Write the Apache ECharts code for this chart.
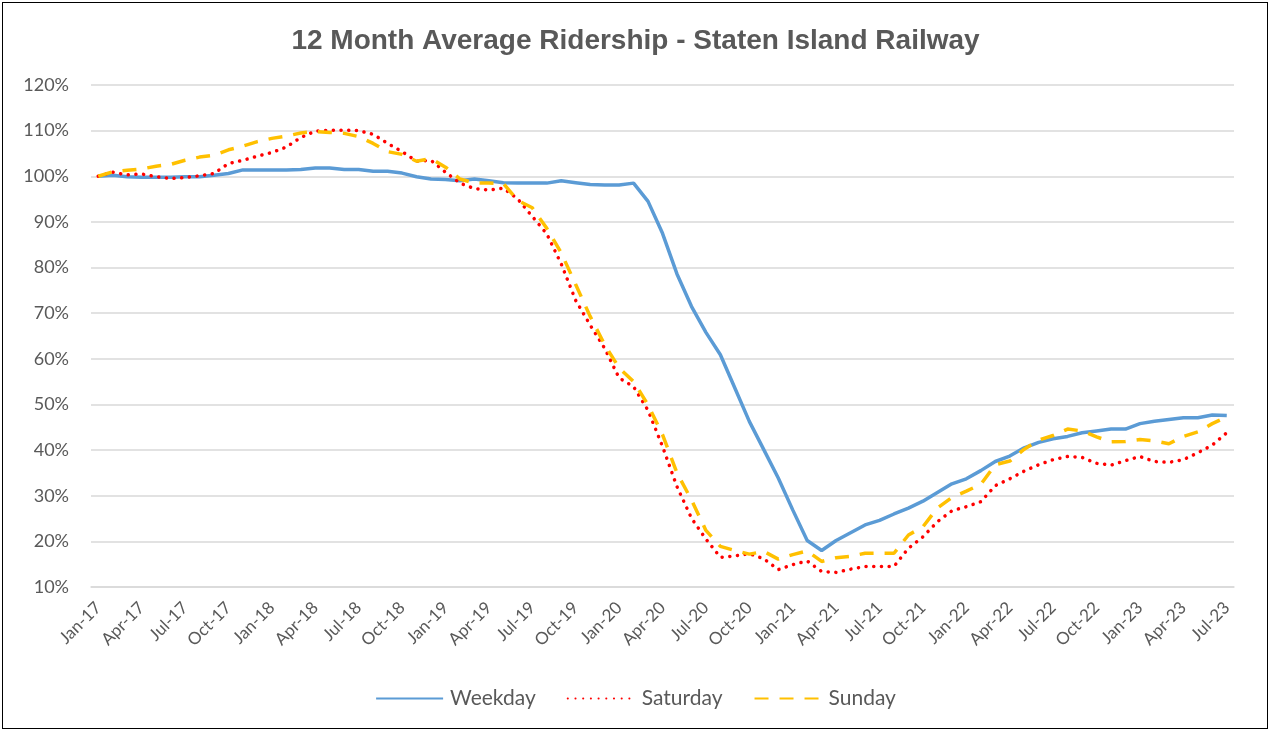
<!DOCTYPE html>
<html>
<head>
<meta charset="utf-8">
<script src="https://cdn.jsdelivr.net/npm/echarts@6/dist/echarts.min.js"></script>
<style>
  html, body { margin: 0; padding: 0; background: #fff; }
  #frame { position: absolute; left: 2px; top: 2px; width: 1266px; height: 727px; border: 1.5px solid #000; box-sizing: border-box; }
  #chart { position: absolute; left: 0; top: 0; width: 1271px; height: 732px; }
</style>
</head>
<body>
<div id="chart"></div>
<div id="frame"></div>
<script>
var months = [
  'Jan-17','Feb-17','Mar-17','Apr-17','May-17','Jun-17','Jul-17','Aug-17','Sep-17','Oct-17','Nov-17','Dec-17',
  'Jan-18','Feb-18','Mar-18','Apr-18','May-18','Jun-18','Jul-18','Aug-18','Sep-18','Oct-18','Nov-18','Dec-18',
  'Jan-19','Feb-19','Mar-19','Apr-19','May-19','Jun-19','Jul-19','Aug-19','Sep-19','Oct-19','Nov-19','Dec-19',
  'Jan-20','Feb-20','Mar-20','Apr-20','May-20','Jun-20','Jul-20','Aug-20','Sep-20','Oct-20','Nov-20','Dec-20',
  'Jan-21','Feb-21','Mar-21','Apr-21','May-21','Jun-21','Jul-21','Aug-21','Sep-21','Oct-21','Nov-21','Dec-21',
  'Jan-22','Feb-22','Mar-22','Apr-22','May-22','Jun-22','Jul-22','Aug-22','Sep-22','Oct-22','Nov-22','Dec-22',
  'Jan-23','Feb-23','Mar-23','Apr-23','May-23','Jun-23','Jul-23'
];

// percent of base (Jan-17 = 100)
var weekday = [
  100.0, 100.2, 99.9, 99.8, 99.8, 99.8, 99.9, 99.9, 100.2, 100.6, 101.4, 101.4,
  101.4, 101.4, 101.5, 101.8, 101.8, 101.5, 101.5, 101.1, 101.1, 100.7, 99.9, 99.4,
  99.3, 99.0, 99.4, 99.0, 98.6, 98.5, 98.5, 98.5, 99.0, 98.6, 98.2, 98.1,
  98.1, 98.5, 94.5, 87.5, 78.6, 71.5, 65.8, 60.9, 53.6, 46.3, 40.1, 33.9,
  26.9, 20.2, 18.0, 20.2, 21.9, 23.6, 24.6, 26.0, 27.3, 28.8, 30.7, 32.6,
  33.7, 35.5, 37.5, 38.7, 40.5, 41.7, 42.5, 43.0, 43.8, 44.2, 44.6, 44.6,
  45.8, 46.3, 46.7, 47.1, 47.1, 47.7, 47.6
];
var saturday = [
  100.0, 100.9, 100.3, 100.5, 99.9, 99.5, 99.7, 100.1, 100.6, 102.8, 103.5, 104.4,
  105.2, 106.4, 108.5, 109.9, 110.1, 110.1, 110.0, 109.2, 107.2, 105.4, 103.3, 103.5,
  100.9, 98.5, 97.3, 97.0, 97.4, 95.0, 91.2, 87.4, 80.8, 72.8, 67.4, 62.3,
  55.8, 53.9, 48.7, 40.8, 32.0, 25.1, 20.5, 16.5, 16.8, 17.3, 16.2, 13.8,
  14.9, 15.7, 13.4, 13.2, 13.9, 14.5, 14.5, 14.5, 18.5, 21.0, 24.3, 26.7,
  27.6, 28.7, 32.2, 33.7, 35.4, 36.8, 37.9, 38.6, 38.4, 37.1, 36.7, 37.7,
  38.6, 37.5, 37.3, 37.9, 39.4, 41.1, 43.8
];
var sunday = [
  100.0, 101.0, 101.3, 101.6, 102.2, 102.6, 103.5, 104.2, 104.6, 105.8, 106.6, 107.6,
  108.3, 108.8, 109.5, 109.8, 109.6, 109.4, 108.7, 107.2, 105.4, 104.8, 103.3, 103.9,
  102.0, 99.4, 98.5, 98.5, 98.4, 94.7, 93.1, 88.6, 83.2, 76.3, 69.3, 63.1,
  58.0, 55.0, 49.9, 43.4, 35.0, 29.1, 22.4, 18.9, 18.0, 17.2, 17.8, 16.1,
  17.1, 17.9, 15.6, 16.4, 16.7, 17.4, 17.4, 17.4, 21.4, 23.2, 27.3, 29.6,
  31.0, 32.5, 36.8, 37.6, 40.2, 42.2, 43.2, 44.6, 44.2, 42.9, 41.8, 41.9,
  42.3, 42.0, 41.4, 43.0, 44.0, 45.8, 47.3
];

var textColor = '#595959';
var gridColor = '#D9D9D9';

var chart = echarts.init(document.getElementById('chart'));

var option = {
  backgroundColor: '#fff',
  title: {
    text: '12 Month Average Ridership - Staten Island Railway',
    left: 'center',
    top: 22,
    textStyle: { fontFamily: 'Liberation Sans', fontWeight: 'bold', fontSize: 28, color: textColor }
  },
  legend: {
    top: 683,
    left: 'center',
    itemWidth: 67,
    itemHeight: 14,
    itemGap: 31,
    itemStyle: { opacity: 0 },
    textStyle: { fontFamily: 'Lato', fontSize: 21, color: textColor, padding: [0, 0, 0, 2] },
    data: ['Weekday', 'Saturday', 'Sunday']
  },
  grid: { left: 91, right: 37, top: 85, bottom: 145 },
  xAxis: {
    type: 'category',
    data: months,
    boundaryGap: true,
    axisLine: { lineStyle: { color: gridColor, width: 1.5 } },
    axisTick: { interval: 2, length: 6, lineStyle: { color: gridColor, width: 1.5 } },
    axisLabel: { interval: 2, rotate: 45, margin: 18, fontFamily: 'Lato', fontSize: 17, color: textColor }
  },
  yAxis: {
    type: 'value',
    min: 10,
    max: 120,
    interval: 10,
    axisLine: { show: false },
    axisTick: { show: false },
    axisLabel: { margin: 22, fontFamily: 'Lato', fontSize: 18, color: textColor, formatter: '{value}%' },
    splitLine: { lineStyle: { color: gridColor, width: 1.5 } }
  },
  series: [
    {
      name: 'Weekday',
      type: 'line',
      data: weekday,
      symbol: 'none',
      color: '#5B9BD5',
      lineStyle: { width: 3.5, color: '#5B9BD5' }
    },
    {
      name: 'Saturday',
      type: 'line',
      data: saturday,
      symbol: 'none',
      color: '#FF0000',
      lineStyle: { width: 3.5, color: '#FF0000', type: [0.1, 7.6], cap: 'round' }
    },
    {
      name: 'Sunday',
      type: 'line',
      data: sunday,
      symbol: 'none',
      color: '#FFC000',
      lineStyle: { width: 3.5, color: '#FFC000', type: [14, 11] }
    }
  ]
};

chart.setOption(option);
</script>
</body>
</html>
